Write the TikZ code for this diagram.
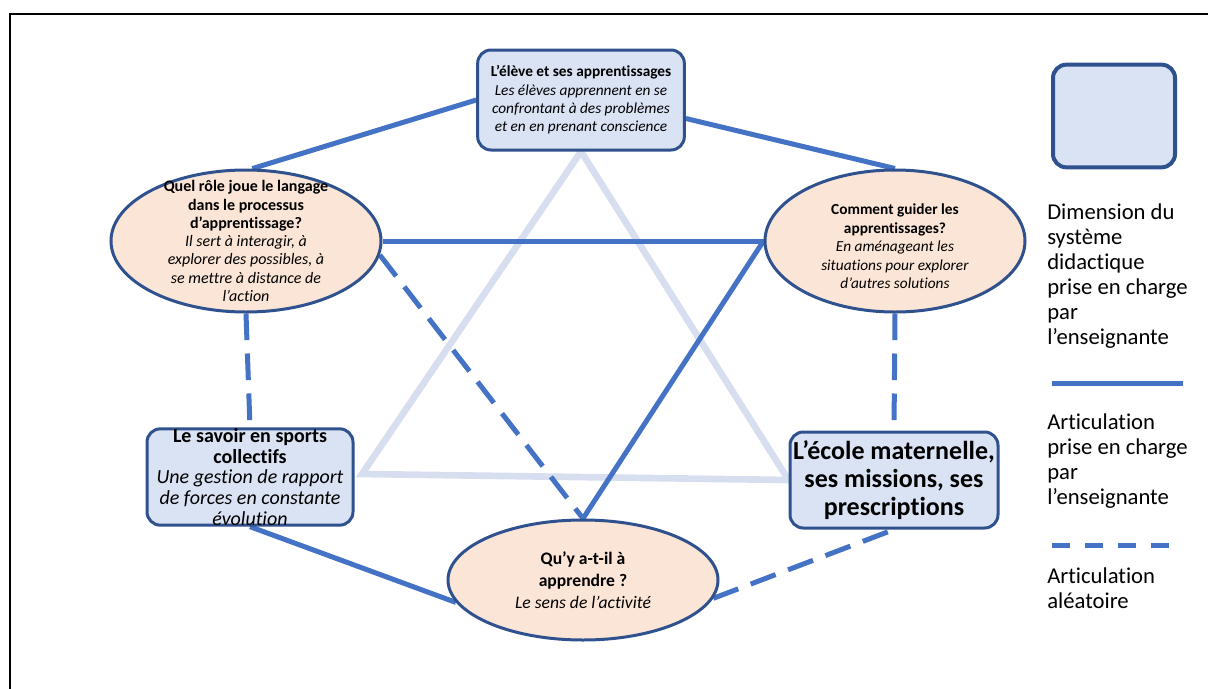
\documentclass[tikz,border=0pt]{standalone}
\usepackage{fontspec}
\setmainfont[Ligatures=NoCommon]{Carlito}
\usetikzlibrary{shapes.geometric,backgrounds}
\definecolor{boxblue}{HTML}{DAE3F3}
\definecolor{peach}{HTML}{FBE5D6}
\definecolor{edgeblue}{HTML}{2F528F}
\definecolor{linkblue}{HTML}{4472C4}
\definecolor{paleblue}{HTML}{D6DEF0}
\tikzset{
  dimbox/.style={draw=edgeblue,line width=2.25pt,fill=boxblue,rounded corners=10pt,align=center,inner sep=0pt},
  dimoval/.style={ellipse,draw=edgeblue,line width=2.25pt,fill=peach,inner sep=0pt},
  ovaltxt/.style={align=center,inner sep=0pt},
  firm/.style={linkblue,line width=3.75pt},
  loose/.style={linkblue,line width=3.75pt,dash pattern=on 20pt off 10pt},
  pale/.style={paleblue,line width=5pt},
  legtxt/.style={anchor=north west,align=left,inner sep=0pt,font=\fontsize{17}{18.75}\selectfont},
}
\begin{document}
\begin{tikzpicture}[x=0.75pt,y=-0.75pt]
  \useasboundingbox (0,0) rectangle (1208,689);
  \draw[line width=1.5pt] (10,689) -- (10,14) -- (1208,14);

  % dimensions du systeme
  \node[dimbox,minimum width=155pt,minimum height=75pt,font=\fontsize{11.5}{13.75}\selectfont] (eleve) at (581,100)
    {\textbf{L’élève et ses apprentissages}\\ \textit{Les élèves apprennent en se}\\ \textit{confrontant à des problèmes}\\ \textit{et en en prenant conscience}};
  \node[dimbox,minimum width=154.5pt,minimum height=71pt,font=\fontsize{15}{15.4}\selectfont] (savoir) at (250,477)
    {\textbf{Le savoir en sports}\\ \textbf{collectifs}\\ \textit{Une gestion de rapport}\\ \textit{de forces en constante}\\ \textit{évolution}};
  \node[dimbox,minimum width=156pt,minimum height=72pt,font=\fontsize{19.5}{21.25}\selectfont\bfseries] (ecole) at (894,480)
    {L’école maternelle,\\ ses missions, ses\\ prescriptions};

  % questions (ellipses)
  \node[dimoval,minimum width=202.5pt,minimum height=106.5pt] (langage) at (246,241) {};
  \node[ovaltxt,font=\fontsize{12}{13.7}\selectfont] (langage-t) at (langage)
    {\textbf{Quel rôle joue le langage}\\ \textbf{dans le processus}\\ \textbf{d’apprentissage?}\\ \textit{Il sert à interagir, à}\\ \textit{explorer des possibles, à}\\ \textit{se mettre à distance de}\\ \textit{l’action}};
  \node[dimoval,minimum width=195pt,minimum height=106.5pt] (guider) at (895,241) {};
  \node[ovaltxt,font=\fontsize{11.5}{13.9}\selectfont] (guider-t) at ([yshift=-4pt]guider.center)
    {\textbf{Comment guider les}\\ \textbf{apprentissages?}\\ \textit{En aménageant les}\\ \textit{situations pour explorer}\\ \textit{d’autres solutions}};
  \node[dimoval,minimum width=202.5pt,minimum height=90pt] (sens) at (583,580) {};
  \node[ovaltxt,font=\fontsize{13.2}{16.5}\selectfont] (sens-t) at (sens)
    {\textbf{Qu’y a-t-il à}\\ \textbf{apprendre ?}\\ \textit{Le sens de l’activité}};

  % articulations
  \coordinate (tl) at (362,474);
  \begin{scope}[on background layer]
    \draw[pale,line join=miter] (eleve.south) -- (tl) -- (ecole.west) -- cycle;
    \draw[firm] (eleve.west) -- (langage.85);
    \draw[firm] (eleve.-10) -- (guider.north);
    \draw[firm] (langage.east) -- (guider.west);
    \draw[firm] (guider.west) -- (sens.north);
    \draw[loose] (langage.-6) -- (sens.north);
    \draw[loose] (langage.south) -- (savoir.north);
    \draw[loose] (guider.south) -- (ecole.north);
    \draw[firm] (savoir.south) -- (sens.190);
    \draw[loose] (sens.-8) -- (ecole.south);
  \end{scope}

  % legende
  \node[dimbox,line width=3pt,minimum width=91.5pt,minimum height=77pt] (legbox) at (1114,116) {};
  \node[legtxt] (leg1) at (1047,203) {Dimension du\\ système\\ didactique\\ prise en charge\\ par\\ l’enseignante};
  \coordinate (s1) at (1052,383);
  \coordinate (s2) at (1183,383);
  \draw[firm] (s1) -- (s2);
  \node[legtxt] (leg2) at (1047,413) {Articulation\\ prise en charge\\ par\\ l’enseignante};
  \coordinate (d1) at (1052,545);
  \coordinate (d2) at (1171,545);
  \draw[linkblue,line width=3.75pt,dash pattern=on 13.5pt off 11.25pt] (d1) -- (d2);
  \node[legtxt] (leg3) at (1047,567) {Articulation\\ aléatoire};
\end{tikzpicture}
\end{document}
